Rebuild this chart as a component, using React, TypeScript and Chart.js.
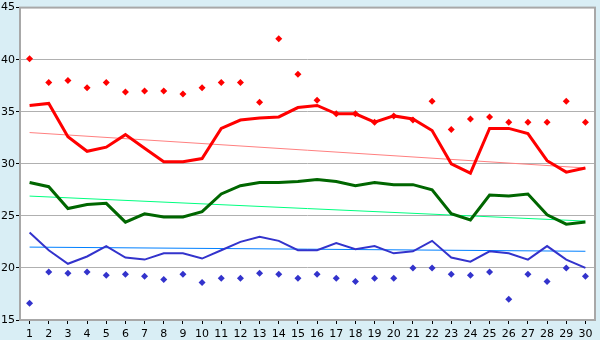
import React, { useEffect, useRef } from "react";
import { Chart, registerables } from "chart.js";

Chart.register(...registerables);

const days = ["1","2","3","4","5","6","7","8","9","10","11","12","13","14","15","16","17","18","19","20","21","22","23","24","25","26","27","28","29","30"];

const maxPoints = [40.1,37.8,38.0,37.3,37.8,36.9,37.0,37.0,36.7,37.3,37.8,37.8,35.9,42.0,38.6,36.1,34.8,34.8,34.0,34.6,34.2,36.0,33.3,34.3,34.5,34.0,34.0,34.0,36.0,34.0];
const highLine = [35.6,35.8,32.6,31.2,31.6,32.8,31.5,30.2,30.2,30.5,33.4,34.2,34.4,34.5,35.4,35.6,34.8,34.8,34.0,34.6,34.3,33.2,30.0,29.1,33.4,33.4,32.9,30.3,29.2,29.6];
const meanLine = [28.2,27.8,25.7,26.1,26.2,24.4,25.2,24.9,24.9,25.4,27.1,27.9,28.2,28.2,28.3,28.5,28.3,27.9,28.2,28.0,28.0,27.5,25.2,24.6,27.0,26.9,27.1,25.1,24.2,24.4];
const lowLine = [23.4,21.7,20.4,21.1,22.1,21.0,20.8,21.4,21.4,20.9,21.7,22.5,23.0,22.6,21.7,21.7,22.4,21.8,22.1,21.4,21.6,22.6,21.0,20.6,21.6,21.4,20.8,22.1,20.8,20.0];
const minPoints = [16.6,19.6,19.5,19.6,19.3,19.4,19.2,18.9,19.4,18.6,19.0,19.0,19.5,19.4,19.0,19.4,19.0,18.7,19.0,19.0,20.0,20.0,19.4,19.3,19.6,17.0,19.4,18.7,20.0,19.2];

const highTrendEnds = [33.0, 29.6];
const meanTrendEnds = [26.9, 24.5];
const lowTrendEnds = [22.0, 21.6];

const yTicks = [15, 20, 25, 30, 35, 40, 45];

function trendData(ends: number[]) {
  return days.map((_, i) => (i === 0 ? ends[0] : i === days.length - 1 ? ends[1] : null));
}

const bgPlugin = {
  id: "bgPlugin",
  beforeDraw(chart: any) {
    const { ctx, chartArea } = chart;
    ctx.save();
    ctx.fillStyle = "#D9EEF5";
    ctx.fillRect(0, 0, chart.width, chart.height);
    ctx.fillStyle = "#FFFFFF";
    ctx.fillRect(chartArea.left, chartArea.top, chartArea.right - chartArea.left, chartArea.bottom - chartArea.top);
    ctx.restore();
  },
  afterDatasetsDraw(chart: any) {
    const { ctx, chartArea } = chart;
    ctx.save();
    ctx.strokeStyle = "#A8A8A8";
    ctx.lineWidth = 2;
    ctx.strokeRect(chartArea.left, chartArea.top, chartArea.right - chartArea.left, chartArea.bottom - chartArea.top);
    ctx.restore();
  },
};

export default function App() {
  const ref = useRef<HTMLCanvasElement | null>(null);
  useEffect(() => {
    document.body.style.margin = "0";
    if (!ref.current) return;
    const chart = new Chart(ref.current, {
      type: "line",
      data: {
        labels: days,
        datasets: [
          { data: maxPoints, showLine: false, pointStyle: "rectRot", pointRadius: 3.5, pointBackgroundColor: "#FF0000", pointBorderWidth: 0, borderColor: "#FF0000", order: 1 },
          { data: minPoints, showLine: false, pointStyle: "rectRot", pointRadius: 3.5, pointBackgroundColor: "#3333CC", pointBorderWidth: 0, borderColor: "#3333CC", order: 1 },
          { data: highLine, borderColor: "#FF0000", borderWidth: 3, pointRadius: 0, tension: 0, order: 2 },
          { data: meanLine, borderColor: "#006600", borderWidth: 3, pointRadius: 0, tension: 0, order: 2 },
          { data: lowLine, borderColor: "#3333CC", borderWidth: 2, pointRadius: 0, tension: 0, order: 2 },
          { data: trendData(highTrendEnds), borderColor: "#FF8080", borderWidth: 1, pointRadius: 0, spanGaps: true, order: 3 },
          { data: trendData(meanTrendEnds), borderColor: "#00FF80", borderWidth: 1, pointRadius: 0, spanGaps: true, order: 3 },
          { data: trendData(lowTrendEnds), borderColor: "#0080FF", borderWidth: 1, pointRadius: 0, spanGaps: true, order: 3 },
        ],
      },
      options: {
        responsive: false,
        animation: false,
        layout: { padding: { top: 5, right: 5, left: 0, bottom: 0 } },
        plugins: { legend: { display: false }, tooltip: { enabled: false } },
        scales: {
          x: {
            type: "category",
            offset: true,
            grid: { display: true, drawOnChartArea: false, drawTicks: true, tickLength: 4, color: "#000000", offset: false },
            border: { display: false },
            ticks: { color: "#000000", font: { family: "DejaVu Sans", size: 11 }, padding: 4, maxRotation: 0, autoSkip: false },
            afterFit: (s: any) => { s.height = 20; },
          },
          y: {
            min: 15,
            max: 45,
            afterBuildTicks: (s: any) => { s.ticks = yTicks.map((v) => ({ value: v })); },
            grid: { color: "#B0B0B0", lineWidth: 1, tickLength: 4, tickColor: "#000000" },
            border: { display: false },
            ticks: { color: "#000000", font: { family: "DejaVu Sans", size: 11 }, padding: 1 },
            afterFit: (s: any) => { s.width = 20; },
          },
        },
      },
      plugins: [bgPlugin],
    });
    return () => chart.destroy();
  }, []);
  return <canvas ref={ref} width={600} height={340} style={{ display: "block" }} />;
}
